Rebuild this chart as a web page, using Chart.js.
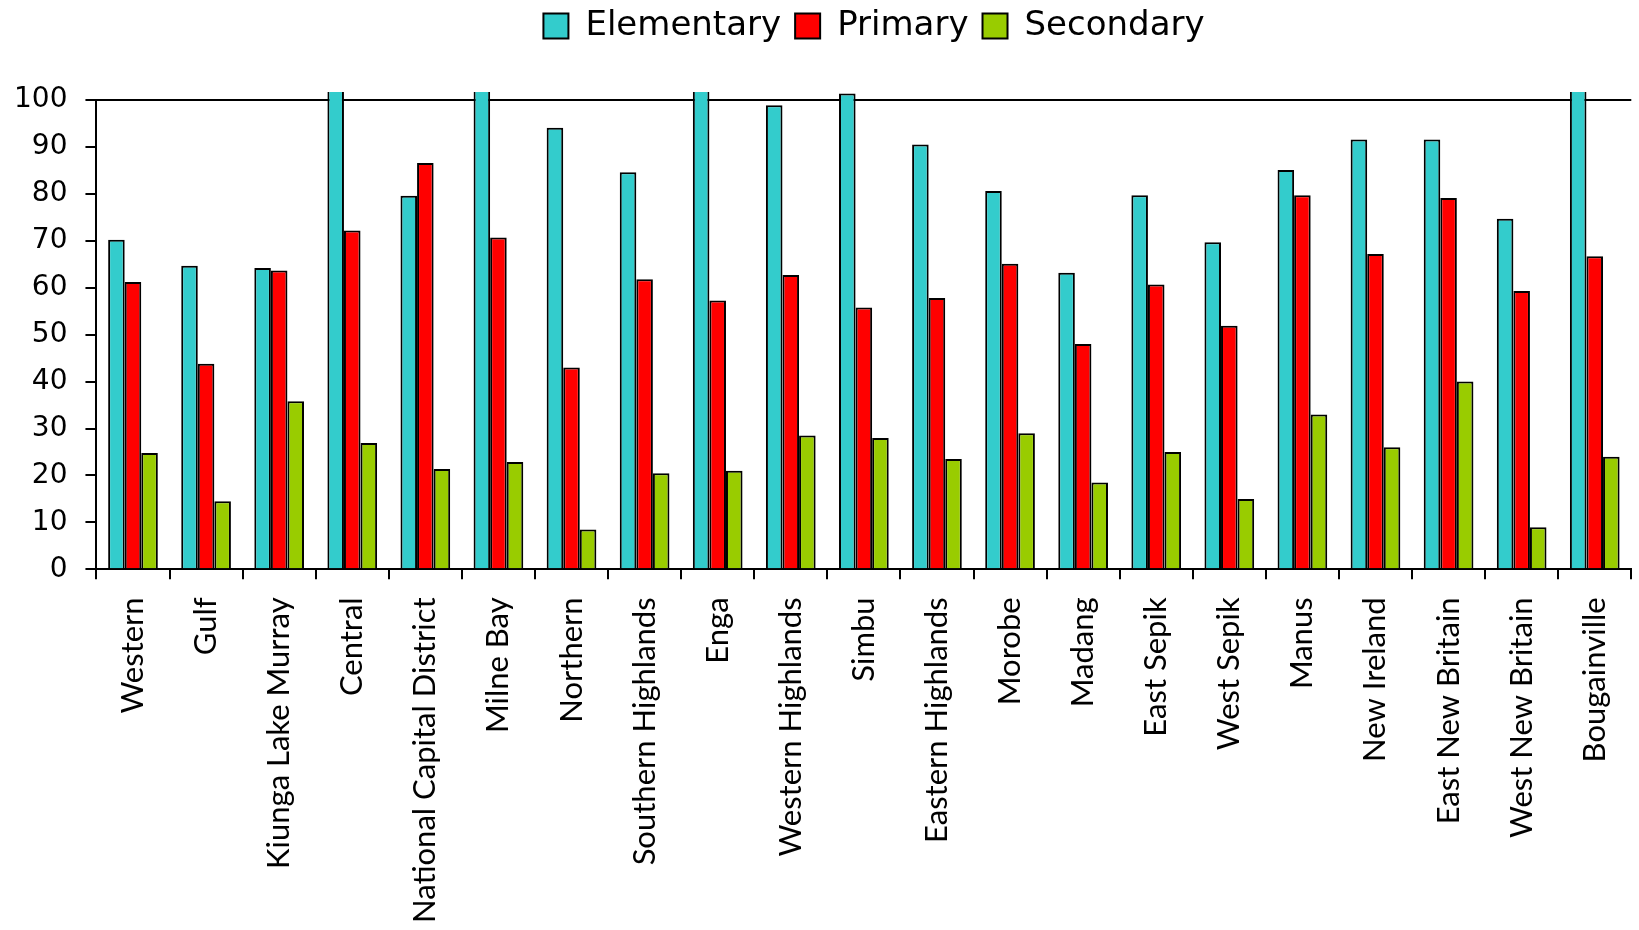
<!DOCTYPE html>
<html>
<head>
<meta charset="utf-8">
<script src="https://cdn.jsdelivr.net/npm/chart.js@4.4.1/dist/chart.umd.min.js"></script>
<style>
  html, body { margin: 0; padding: 0; background: #fff; overflow: hidden; }
  #wrap { width: 1650px; height: 930px; }
</style>
</head>
<body>
<div id="wrap"><canvas id="chart-1" width="1650" height="930"></canvas></div>
<script>
/************************ data *********************************/

const provinces = ["Western", "Gulf", "Kiunga Lake Murray", "Central", "National Capital District",
  "Milne Bay", "Northern", "Southern Highlands", "Enga", "Western Highlands", "Simbu",
  "Eastern Highlands", "Morobe", "Madang", "East Sepik", "West Sepik", "Manus", "New Ireland",
  "East New Britain", "West New Britain", "Bougainville"];
const elementary = [70.2, 64.7, 64.2, 110, 79.6, 110, 94.1, 84.6, 110, 98.9, 101.4, 90.5,
  80.6, 63.2, 79.7, 69.7, 85.1, 91.6, 91.6, 74.7, 110];
const primary = [61.2, 43.8, 63.7, 72.2, 86.6, 70.7, 43, 61.8, 57.3, 62.7, 55.8, 57.8,
  65.1, 48, 60.7, 51.9, 79.7, 67.2, 79.1, 59.3, 66.7];
const secondary = [24.8, 14.5, 35.8, 26.9, 21.4, 22.9, 8.5, 20.5, 21, 28.5, 28, 23.5,
  29, 18.5, 25, 15, 33, 26, 40, 9, 24];
const yTicks = [0, 10, 20, 30, 40, 50, 60, 70, 80, 90, 100];

/************************ helpers *********************************/

const barClip = { left: 10, top: 8, right: 10, bottom: 10 };

function makeSet(label, data, color) {
  return {
    label: label,
    data: data,
    backgroundColor: color,
    borderColor: "#000",
    borderWidth: 2,
    borderSkipped: "bottom",
    clip: barClip,
  };
}

// push the plot down under the legend, and nudge the legend into place
const legendSpace = {
  id: "legendSpace",
  beforeInit(chart) {
    if (!chart.legend) return;
    const fit = chart.legend.fit;
    chart.legend.fit = function () {
      fit.call(this);
      this.height += 42;
    };
  },
  afterLayout(chart) {
    if (!chart.legend) return;
    chart.legend.left += 52;
    chart.legend.right += 52;
    chart.legend.top -= 5;
    chart.legend.bottom -= 5;
  },
};

/************************* CHART ******************************/

const ctx1 = document.getElementById("chart-1").getContext("2d");
const myChart1 = new Chart(ctx1, {
  type: "bar",
  data: {
    labels: provinces,
    datasets: [
      makeSet("Elementary", elementary, "#33CCCC"),
      makeSet("Primary", primary, "#FF0000"),
      makeSet("Secondary", secondary, "#99CC00"),
    ],
  },
  options: {
    responsive: false,
    animation: false,
    events: [],
    layout: {
      padding: { left: -4, right: 2, top: 0, bottom: -11 },
    },
    datasets: {
      bar: { barPercentage: 1, categoryPercentage: 0.68 },
    },
    plugins: {
      tooltip: { enabled: false },
      legend: {
        position: "top",
        labels: {
          color: "#000",
          boxWidth: 25,
          boxHeight: 25,
          padding: 14,
          font: { family: "'DejaVu Sans'", size: 34 },
        },
      },
    },
    scales: {
      x: {
        border: { display: true, color: "#000", width: 2 },
        grid: {
          offset: true,
          drawOnChartArea: false,
          drawTicks: true,
          tickLength: 10,
          tickColor: "#000",
          lineWidth: 2,
        },
        ticks: {
          autoSkip: false,
          minRotation: 90,
          maxRotation: 90,
          padding: 18,
          color: "#000",
          font: { family: "Lato", size: 31 },
        },
      },
      y: {
        min: 0,
        max: 100,
        border: { display: true, color: "#000", width: 2 },
        afterBuildTicks(scale) {
          scale.ticks = yTicks.map((v) => ({ value: v }));
        },
        grid: {
          color: (c) => (c.tick && c.tick.value === 100 ? "#000" : "rgba(0,0,0,0)"),
          tickColor: "#000",
          lineWidth: 2,
          tickLength: 11,
        },
        ticks: {
          padding: 18,
          color: "#000",
          font: { family: "'DejaVu Sans'", size: 28 },
        },
      },
    },
  },
  plugins: [legendSpace],
});
</script>
</body>
</html>
